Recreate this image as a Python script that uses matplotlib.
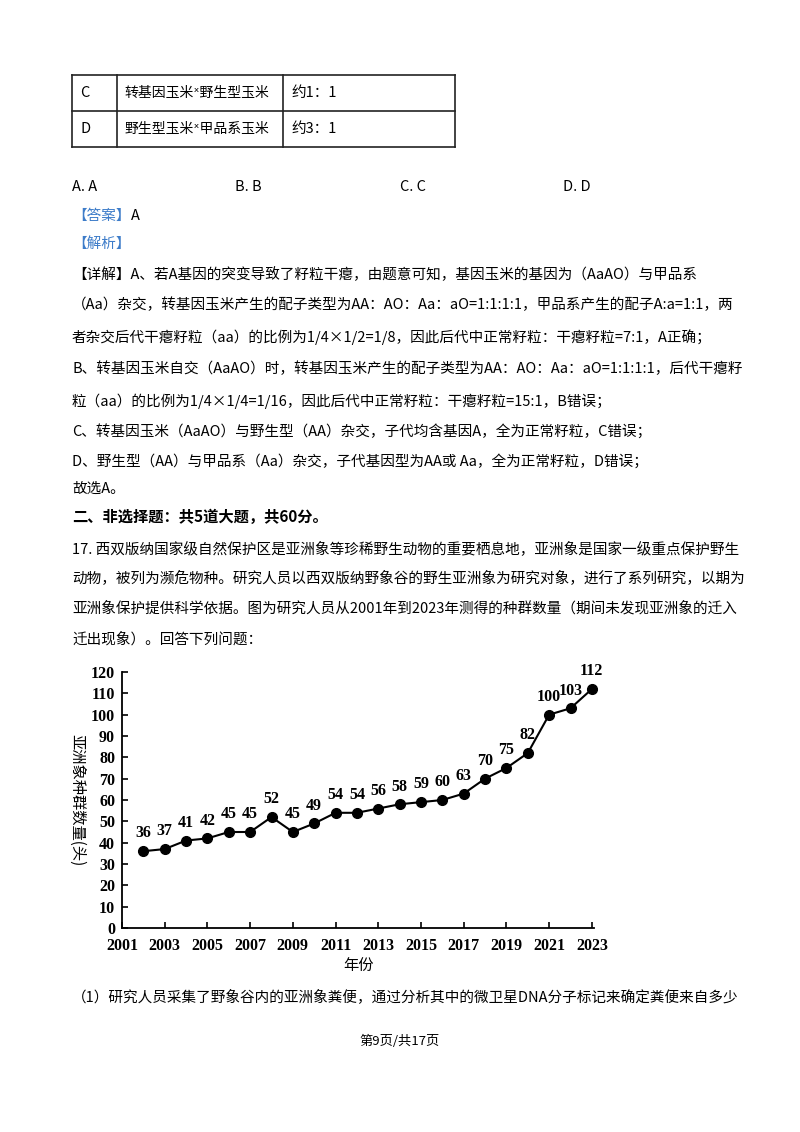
import matplotlib
matplotlib.use("Agg")
import matplotlib.pyplot as plt
from matplotlib.lines import Line2D

years = list(range(2002, 2024))
counts = [36, 37, 41, 42, 45, 45, 52, 45, 49, 54, 54, 56, 58, 59, 60, 63, 70, 75, 82, 100, 103, 112]
xticks = list(range(2001, 2024, 2))
yticks = list(range(0, 121, 10))

CJK = ['Noto Sans CJK SC', 'DejaVu Sans']
plt.rcParams['font.family'] = CJK

W, H = 800, 1132
fig = plt.figure(figsize=(8, 11.32), dpi=100)

def T(x, y, s, size=10.5, **kw):
    fig.text(x / W, 1 - y / H, s, fontsize=size, va='center', **kw)

def L(x0, y0, x1, y1, lw=1.2):
    fig.add_artist(Line2D([x0 / W, x1 / W], [1 - y0 / H, 1 - y1 / H], color='#222', lw=lw))

# table
for y in (75, 111, 147):
    L(72, y, 455, y)
for x in (72, 117, 283, 455):
    L(x, 75, x, 147)
T(80, 93, "C"); T(124, 93, "转基因玉米ˣ野生型玉米", size=10); T(291, 93, "约1：1")
T(80, 129, "D"); T(124, 129, "野生型玉米ˣ甲品系玉米", size=10); T(291, 129, "约3：1")

T(72, 187, "A. A"); T(235, 187, "B. B"); T(400, 187, "C. C"); T(563, 187, "D. D")
T(72, 216, "【答案】", color='#3d7cc9'); T(131, 216, "A")
T(72, 244, "【解析】", color='#3d7cc9')
lines = [
    (275, "【详解】A、若A基因的突变导致了籽粒干瘪，由题意可知，基因玉米的基因为（AaAO）与甲品系"),
    (305, "（Aa）杂交，转基因玉米产生的配子类型为AA：AO：Aa：aO=1:1:1:1，甲品系产生的配子A:a=1:1，两"),
    (337, "者杂交后代干瘪籽粒（aa）的比例为1/4×1/2=1/8，因此后代中正常籽粒：干瘪籽粒=7:1，A正确；"),
    (369, "B、转基因玉米自交（AaAO）时，转基因玉米产生的配子类型为AA：AO：Aa：aO=1:1:1:1，后代干瘪籽"),
    (401, "粒（aa）的比例为1/4×1/4=1/16，因此后代中正常籽粒：干瘪籽粒=15:1，B错误；"),
    (431, "C、转基因玉米（AaAO）与野生型（AA）杂交，子代均含基因A，全为正常籽粒，C错误；"),
    (461, "D、野生型（AA）与甲品系（Aa）杂交，子代基因型为AA或 Aa，全为正常籽粒，D错误；"),
    (489, "故选A。"),
]
for y, s in lines:
    T(72, y, s)
T(72, 517, "二、非选择题：共5道大题，共60分。", size=11, fontweight='bold')
for y, s in [
    (549, "17. 西双版纳国家级自然保护区是亚洲象等珍稀野生动物的重要栖息地，亚洲象是国家一级重点保护野生"),
    (578, "动物，被列为濒危物种。研究人员以西双版纳野象谷的野生亚洲象为研究对象，进行了系列研究，以期为"),
    (608, "亚洲象保护提供科学依据。图为研究人员从2001年到2023年测得的种群数量（期间未发现亚洲象的迁入"),
    (639, "迁出现象）。回答下列问题："),
    (997, "（1）研究人员采集了野象谷内的亚洲象粪便，通过分析其中的微卫星DNA分子标记来确定粪便来自多少"),
]:
    T(72, y, s)
fig.text(400 / W, 1 - 1041 / H, "第9页/共17页", fontsize=9.5, ha='center', va='center')

# chart
ax = fig.add_axes([122 / W, 1 - 928 / H, (594 - 122) / W, (928 - 672) / H])
ax.plot(years, counts, color='black', lw=1.5, marker='o', ms=7, clip_on=False)
for x, v in zip(years, counts):
    ax.annotate(str(v), (x, v), xytext=(0, 7), textcoords='offset points', ha='center',
                va='bottom', fontsize=11.5, fontweight='bold', family='Liberation Serif',
                annotation_clip=False)
ax.set_xlim(2001, 2023.1)
ax.set_ylim(0, 120)
ax.set_xticks(xticks)
ax.set_yticks(yticks)
ax.spines[['top', 'right']].set_visible(False)
for s in ('left', 'bottom'):
    ax.spines[s].set_linewidth(1.3)
ax.tick_params(direction='in', length=4, width=1.2, labelsize=11.5)
ax.tick_params(axis='x', pad=7)
ax.tick_params(axis='y', pad=5)
for lab in ax.get_xticklabels() + ax.get_yticklabels():
    lab.set_family('Liberation Serif'); lab.set_fontweight('bold')
ax.set_xlabel("年份", fontsize=11, labelpad=2)
ax.set_ylabel("亚洲象种群数量(头)", fontsize=11, rotation=-90, labelpad=16)

fig.savefig("out.png", dpi=100, facecolor='white')
